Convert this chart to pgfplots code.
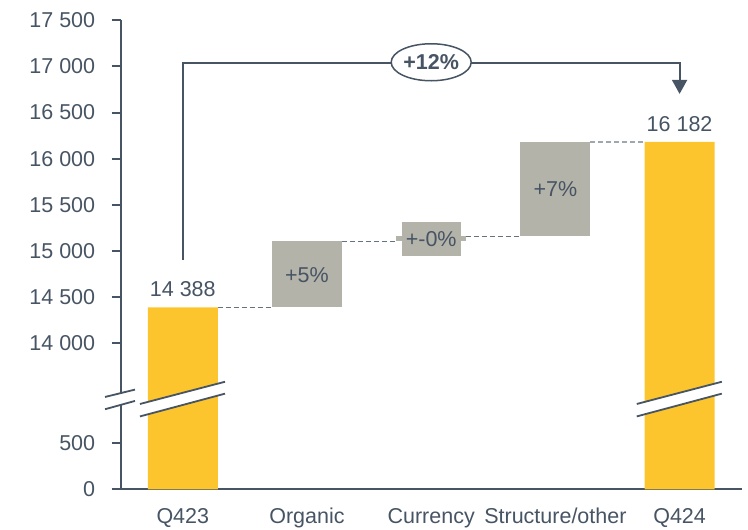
\documentclass[border=0pt]{standalone}
\usepackage{pgfplots}
\pgfplotsset{compat=1.18}
\usepackage{fontspec}
\setmainfont{Liberation Sans}
\usetikzlibrary{arrows.meta,shapes.geometric}

\definecolor{barY}{RGB}{253,197,45}
\definecolor{barG}{RGB}{180,179,169}
\definecolor{slate}{RGB}{70,84,99}
\definecolor{dashA}{RGB}{100,115,130}
\definecolor{dashB}{RGB}{160,168,175}

% values above the break are shifted down by 12415
\begin{document}
\begin{tikzpicture}
\useasboundingbox (-120.7pt,-40pt) rectangle (627.3pt,489.3pt);
\begin{axis}[
  scale only axis, width=621pt, height=469pt,
  xmin=-0.5, xmax=4.5, ymin=0, ymax=5085,
  axis x line*=bottom, axis y line*=left,
  axis line style={slate, line width=2pt},
  every tick/.style={slate, line width=2pt},
  xtick={0,1,2,3,4},
  xticklabels={Q423,Organic,Currency,Structure/other,Q424},
  x tick style={draw=none},
  ytick={0,500,1585,2085,2585,3085,3585,4085,4585,5085},
  yticklabels={0,500,14 000,14 500,15 000,15 500,16 000,16 500,17 000,17 500},
  tick align=outside, major tick length=9pt,
  tick label style={font=\fontsize{21.5}{25}\selectfont, text=slate},
  yticklabel style={xshift=-13pt},
  xticklabel style={yshift=-6pt, text height=16pt, text depth=5pt},
  /pgf/number format/assume math mode=true,
  clip=false,
]
% yellow totals
\addplot[ybar, bar width=70pt, fill=barY, draw=none] coordinates {(0,1973) (4,3767)};
% floating grey bars
\addplot[fill=barG, draw=none] coordinates {(0.7183,1973) (1.2817,1973) (1.2817,2690) (0.7183,2690)};
\addplot[fill=barG, draw=none] coordinates {(1.7183,2690) (2.2817,2690) (2.2817,2745) (1.7183,2745)};
\addplot[fill=barG, draw=none] coordinates {(2.7183,2745) (3.2817,2745) (3.2817,3767) (2.7183,3767)};
% connectors
\addplot[dashA, line width=1.2pt, dash pattern=on 5pt off 3pt] coordinates {(0.2817,1973) (0.7183,1973)};
\addplot[dashA, line width=1.2pt, dash pattern=on 5pt off 3pt] coordinates {(1.2817,2690) (1.7183,2690)};
\addplot[dashA, line width=1.2pt, dash pattern=on 5pt off 3pt] coordinates {(2.2817,2745) (2.7183,2745)};
\addplot[dashB, line width=1.5pt, dash pattern=on 5pt off 3pt] coordinates {(3.2817,3767) (3.7183,3767)};

% labels
\node[fill=barG, minimum width=59pt, minimum height=34pt, inner sep=0pt, text=slate, font=\fontsize{21.5}{25}\selectfont] at (axis cs:2,2712) {+-0\%};
\node[text=slate, font=\fontsize{21.5}{25}\selectfont] at (axis cs:1,2320) {+5\%};
\node[text=slate, font=\fontsize{21.5}{25}\selectfont] at (axis cs:3,3256) {+7\%};
\node[anchor=base, text=slate, font=\fontsize{21.5}{25}\selectfont, inner sep=0pt] at ([yshift=10.7pt]axis cs:0,1973) {14 388};
\node[anchor=base, text=slate, font=\fontsize{21.5}{25}\selectfont, inner sep=0pt] at ([yshift=10pt]axis cs:4,3767) {16 182};

% bracket with arrow
\draw[slate, line width=2pt, -{Triangle[width=15pt,length=14pt]}]
  (axis cs:0,2484) -- (axis cs:0,4625) -- (axis cs:4,4625) -- (axis cs:4,4287);
\node[ellipse, draw=slate, line width=1.5pt, fill=white, minimum width=80pt, minimum height=37pt, inner sep=0pt,
  text=slate, font=\fontsize{21.5}{25}\selectfont\bfseries] at (axis cs:2,4630) {+12\%};

% break marks
\fill[white] (axis cs:-0.626,868) -- (axis cs:-0.385,958) -- (axis cs:-0.385,1081) -- (axis cs:-0.626,1001) -- cycle;
\draw[slate, line width=1.8pt] (axis cs:-0.626,1001) -- (axis cs:-0.385,1081);
\draw[slate, line width=1.8pt] (axis cs:-0.626,868) -- (axis cs:-0.385,958);
\fill[white] (axis cs:-0.345,790) -- (axis cs:0.34,1037) -- (axis cs:0.34,1166) -- (axis cs:-0.345,925) -- cycle;
\draw[slate, line width=1.8pt] (axis cs:-0.345,925) -- (axis cs:0.34,1166);
\draw[slate, line width=1.8pt] (axis cs:-0.345,790) -- (axis cs:0.34,1037);
\fill[white] (axis cs:3.655,790) -- (axis cs:4.34,1037) -- (axis cs:4.34,1166) -- (axis cs:3.655,925) -- cycle;
\draw[slate, line width=1.8pt] (axis cs:3.655,925) -- (axis cs:4.34,1166);
\draw[slate, line width=1.8pt] (axis cs:3.655,790) -- (axis cs:4.34,1037);
\end{axis}
\end{tikzpicture}
\end{document}
